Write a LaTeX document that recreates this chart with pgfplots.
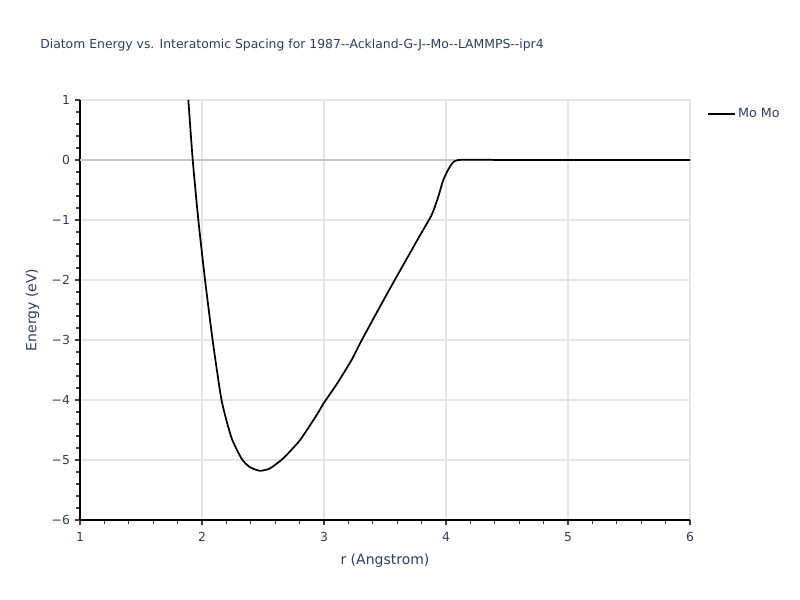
\documentclass[border=0pt]{standalone}
\usepackage{pgfplots}
\pgfplotsset{compat=1.18}
\usepackage{fontspec}
\setmainfont{DejaVu Sans}
\definecolor{txt}{HTML}{2A3F5F}
\definecolor{gridc}{HTML}{E5E5E5}
\definecolor{zeroc}{HTML}{C8C8C8}
\begin{document}
\begin{tikzpicture}[x=1pt,y=1pt]
\useasboundingbox (0,0) rectangle (600,450);
\node[anchor=west,inner sep=0pt,text=txt,font=\fontsize{9.3}{10}\selectfont] at (30,416) {Diatom Energy vs. Interatomic Spacing for 1987-{}-Ackland-G-J-{}-Mo-{}-LAMMPS-{}-ipr4};
\begin{axis}[
  at={(60pt,60pt)}, anchor=south west,
  scale only axis, width=457.5pt, height=315pt,
  xmin=1, xmax=6, ymin=-6, ymax=1,
  xtick={1,2,3,4,5,6}, ytick={-6,-5,-4,-3,-2,-1,0,1},
  yticklabels={−6,−5,−4,−3,−2,−1,0,1},
  minor x tick num=4, minor y tick num=4,
  axis x line*=bottom, axis y line*=left,
  axis line style={black, line width=0.8pt, -},
  tick style={black!75, line width=0.8pt},
  major tick length=4pt, minor tick length=3pt,
  tick align=outside,
  xmajorgrids, ymajorgrids,
  major grid style={gridc, line width=0.8pt},
  /pgf/number format/assume math mode=true,
  ticklabel style={text=txt, font=\fontsize{9.3}{10}\selectfont},
  xticklabel style={yshift=-1.5pt},
  xlabel={r (Angstrom)}, ylabel={Energy (eV)},
  label style={text=txt, font=\fontsize{10.5}{12}\selectfont},
  xlabel style={at={(axis description cs:0.5,0)}, anchor=north, yshift=-22pt},
  ylabel style={at={(axis description cs:0,0.5)}, anchor=south, yshift=27pt},
  legend style={at={(1.021,0.993)}, anchor=north west, draw=none, fill=none,
    font=\fontsize{9.5}{10}\selectfont, text=txt},
  legend image code/.code={\draw[#1] (0pt,0pt) -- (20pt,0pt);},
  legend cell align=left,
  clip=true,
]
\addplot[zeroc, line width=1pt, forget plot] coordinates {(1,0) (6,0)};
\addplot[black, line width=1.3pt, smooth, tension=0.35] coordinates {
(1.888,1.0) (1.924,0.0) (1.97,-1.0) (2.025,-2.0) (2.087,-3.0) (2.16,-4.0)
(2.24,-4.62) (2.325,-4.98) (2.393,-5.12) (2.475,-5.18) (2.557,-5.14) (2.667,-4.97)
(2.803,-4.67) (2.94,-4.25) (3.0,-4.045) (3.10,-3.75) (3.227,-3.33) (3.31,-3.0)
(3.46,-2.44) (3.58,-2.0) (3.773,-1.305) (3.882,-0.917) (3.937,-0.61) (3.978,-0.33)
(4.033,-0.11) (4.1,0.0) (4.5,0.0) (5,0.0) (6,0.0)};
\addlegendentry{Mo Mo}
\end{axis}
\end{tikzpicture}
\end{document}
